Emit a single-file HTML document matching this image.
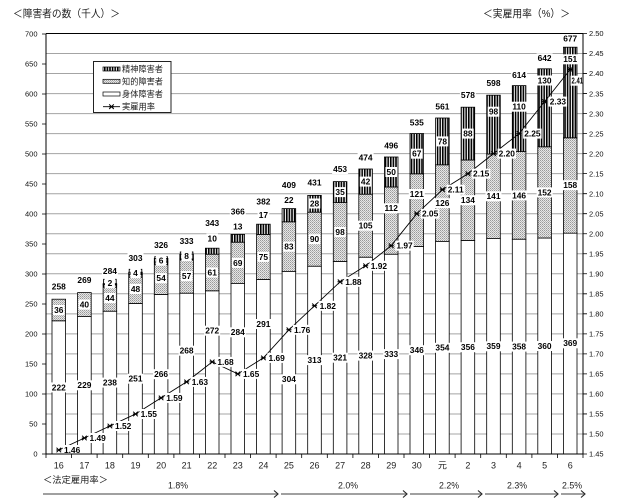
<!DOCTYPE html>
<html><head><meta charset="utf-8">
<style>
html,body{margin:0;padding:0;background:#fff;}
svg{display:block;}
.n{font-family:"Liberation Sans",Arial,sans-serif;font-weight:bold;font-size:8.4px;text-anchor:middle;fill:#000;}
.ax{font-family:"Liberation Sans",Arial,sans-serif;font-size:7.5px;fill:#111;}
.xl{font-family:"Liberation Sans","Noto Sans CJK JP",sans-serif;font-size:9px;fill:#222;text-anchor:middle;}
.jp{font-family:"Liberation Sans","Noto Sans CJK JP",sans-serif;fill:#222;}
</style></head>
<body>
<svg width="625" height="501" viewBox="0 0 625 501" xmlns="http://www.w3.org/2000/svg">
<defs>
<pattern id="st" width="2.6" height="4" patternUnits="userSpaceOnUse"><rect width="2.6" height="4" fill="#fff"/><rect width="1.6" height="4" fill="#000"/></pattern>
<pattern id="dt" width="2" height="2" patternUnits="userSpaceOnUse"><rect width="2" height="2" fill="#e6e6e6"/><rect width="1" height="1" fill="#999"/><rect x="1" y="1" width="1" height="1" fill="#b5b5b5"/></pattern>
<path id="mk" d="M-2.3 -2.3L2.3 2.3M-2.3 2.3L2.3 -2.3M-2.6 0H2.6" stroke="#000" stroke-width="1" fill="none"/>
<clipPath id="pc"><rect x="46" y="33" width="537" height="422"/></clipPath>
</defs>
<rect width="625" height="501" fill="#fff"/>

<!-- titles -->
<text class="jp" x="13" y="17" font-size="10.5" textLength="107" lengthAdjust="spacingAndGlyphs">＜障害者の数（千人）＞</text>
<text class="jp" x="483" y="17" font-size="10.5" textLength="87" lengthAdjust="spacingAndGlyphs">＜実雇用率（%）＞</text>

<!-- gridlines -->
<path d="M46 433.98H583M46 413.95H583M46 393.93H583M46 373.9H583M46 353.88H583M46 333.86H583M46 313.83H583M46 293.81H583M46 273.78H583M46 253.76H583M46 233.74H583M46 213.71H583M46 193.69H583M46 173.66H583M46 153.64H583M46 133.62H583M46 113.59H583M46 93.57H583M46 73.54H583M46 53.52H583" stroke="#a4a4a4" stroke-width="1" fill="none"/>

<!-- bars -->
<g stroke="#000" stroke-width="0.8">
<rect x="52.0" y="320.8" width="13.6" height="133.2" fill="#fff"/><rect x="52.0" y="299.2" width="13.6" height="21.6" fill="url(#dt)"/>
<rect x="77.6" y="316.6" width="13.6" height="137.4" fill="#fff"/><rect x="77.6" y="292.6" width="13.6" height="24" fill="url(#dt)"/>
<rect x="103.1" y="311.2" width="13.6" height="142.8" fill="#fff"/><rect x="103.1" y="284.8" width="13.6" height="26.4" fill="url(#dt)"/><rect x="103.1" y="283.6" width="13.6" height="1.2" fill="url(#st)"/>
<rect x="128.7" y="303.4" width="13.6" height="150.6" fill="#fff"/><rect x="128.7" y="274.6" width="13.6" height="28.8" fill="url(#dt)"/><rect x="128.7" y="272.2" width="13.6" height="2.4" fill="url(#st)"/>
<rect x="154.3" y="294.4" width="13.6" height="159.6" fill="#fff"/><rect x="154.3" y="262" width="13.6" height="32.4" fill="url(#dt)"/><rect x="154.3" y="258.4" width="13.6" height="3.6" fill="url(#st)"/>
<rect x="179.8" y="293.2" width="13.6" height="160.8" fill="#fff"/><rect x="179.8" y="259" width="13.6" height="34.2" fill="url(#dt)"/><rect x="179.8" y="254.2" width="13.6" height="4.8" fill="url(#st)"/>
<rect x="205.4" y="290.8" width="13.6" height="163.2" fill="#fff"/><rect x="205.4" y="254.2" width="13.6" height="36.6" fill="url(#dt)"/><rect x="205.4" y="248.2" width="13.6" height="6" fill="url(#st)"/>
<rect x="231.0" y="283.6" width="13.6" height="170.4" fill="#fff"/><rect x="231.0" y="242.2" width="13.6" height="41.4" fill="url(#dt)"/><rect x="231.0" y="234.4" width="13.6" height="7.8" fill="url(#st)"/>
<rect x="256.6" y="279.4" width="13.6" height="174.6" fill="#fff"/><rect x="256.6" y="234.4" width="13.6" height="45" fill="url(#dt)"/><rect x="256.6" y="224.2" width="13.6" height="10.2" fill="url(#st)"/>
<rect x="282.1" y="271.6" width="13.6" height="182.4" fill="#fff"/><rect x="282.1" y="221.8" width="13.6" height="49.8" fill="url(#dt)"/><rect x="282.1" y="208.6" width="13.6" height="13.2" fill="url(#st)"/>
<rect x="307.7" y="266.2" width="13.6" height="187.8" fill="#fff"/><rect x="307.7" y="212.2" width="13.6" height="54" fill="url(#dt)"/><rect x="307.7" y="195.4" width="13.6" height="16.8" fill="url(#st)"/>
<rect x="333.3" y="261.4" width="13.6" height="192.6" fill="#fff"/><rect x="333.3" y="202.6" width="13.6" height="58.8" fill="url(#dt)"/><rect x="333.3" y="181.6" width="13.6" height="21" fill="url(#st)"/>
<rect x="358.8" y="257.2" width="13.6" height="196.8" fill="#fff"/><rect x="358.8" y="194.2" width="13.6" height="63" fill="url(#dt)"/><rect x="358.8" y="169" width="13.6" height="25.2" fill="url(#st)"/>
<rect x="384.4" y="254.2" width="13.6" height="199.8" fill="#fff"/><rect x="384.4" y="187" width="13.6" height="67.2" fill="url(#dt)"/><rect x="384.4" y="157" width="13.6" height="30" fill="url(#st)"/>
<rect x="410.0" y="246.4" width="13.6" height="207.6" fill="#fff"/><rect x="410.0" y="173.8" width="13.6" height="72.6" fill="url(#dt)"/><rect x="410.0" y="133.6" width="13.6" height="40.2" fill="url(#st)"/>
<rect x="435.6" y="241.6" width="13.6" height="212.4" fill="#fff"/><rect x="435.6" y="164.8" width="13.6" height="76.8" fill="url(#dt)"/><rect x="435.6" y="118" width="13.6" height="46.8" fill="url(#st)"/>
<rect x="461.1" y="240.4" width="13.6" height="213.6" fill="#fff"/><rect x="461.1" y="160" width="13.6" height="80.4" fill="url(#dt)"/><rect x="461.1" y="107.2" width="13.6" height="52.8" fill="url(#st)"/>
<rect x="486.7" y="238.6" width="13.6" height="215.4" fill="#fff"/><rect x="486.7" y="154" width="13.6" height="84.6" fill="url(#dt)"/><rect x="486.7" y="95.2" width="13.6" height="58.8" fill="url(#st)"/>
<rect x="512.3" y="239.2" width="13.6" height="214.8" fill="#fff"/><rect x="512.3" y="151.6" width="13.6" height="87.6" fill="url(#dt)"/><rect x="512.3" y="85.6" width="13.6" height="66" fill="url(#st)"/>
<rect x="537.8" y="238" width="13.6" height="216" fill="#fff"/><rect x="537.8" y="146.8" width="13.6" height="91.2" fill="url(#dt)"/><rect x="537.8" y="68.8" width="13.6" height="78" fill="url(#st)"/>
<rect x="563.4" y="232.6" width="13.6" height="221.4" fill="#fff"/><rect x="563.4" y="137.8" width="13.6" height="95.4" fill="url(#dt)"/><rect x="563.4" y="47.2" width="13.6" height="90.6" fill="url(#st)"/>
</g>

<!-- rate line -->
<polyline points="58.8,450 84.4,438 109.9,426 135.5,414 161.1,397.9 186.6,381.9 212.2,361.9 237.8,373.9 263.4,357.9 288.9,329.8 314.5,305.8 340.1,281.8 365.6,265.8 391.2,245.7 416.8,213.7 442.4,189.7 467.9,173.7 493.5,153.6 519.1,133.6 544.6,101.6 570.2,69.5" fill="none" stroke="#000" stroke-width="0.9"/>
<g>
<use href="#mk" x="58.8" y="450"/><use href="#mk" x="84.4" y="438"/><use href="#mk" x="109.9" y="426"/><use href="#mk" x="135.5" y="414"/><use href="#mk" x="161.1" y="397.9"/><use href="#mk" x="186.6" y="381.9"/><use href="#mk" x="212.2" y="361.9"/><use href="#mk" x="237.8" y="373.9"/><use href="#mk" x="263.4" y="357.9"/><use href="#mk" x="288.9" y="329.8"/><use href="#mk" x="314.5" y="305.8"/><use href="#mk" x="340.1" y="281.8"/><use href="#mk" x="365.6" y="265.8"/><use href="#mk" x="391.2" y="245.7"/><use href="#mk" x="416.8" y="213.7"/><use href="#mk" x="442.4" y="189.7"/><use href="#mk" x="467.9" y="173.7"/><use href="#mk" x="493.5" y="153.6"/><use href="#mk" x="519.1" y="133.6"/><use href="#mk" x="544.6" y="101.6"/><use href="#mk" x="570.2" y="69.5"/>
</g>

<g clip-path="url(#pc)">
<!-- total labels -->
<g fill="#fff">
<rect x="50.8" y="281.7" width="16" height="10"/><rect x="76.4" y="275" width="16" height="10"/><rect x="101.9" y="266" width="16" height="10"/><rect x="127.5" y="253" width="16" height="10"/><rect x="153.1" y="240" width="16" height="10"/><rect x="178.6" y="236" width="16" height="10"/><rect x="204.2" y="218" width="16" height="10"/><rect x="229.8" y="206.7" width="16" height="10"/><rect x="255.4" y="196.7" width="16" height="10"/><rect x="280.9" y="180" width="16" height="10"/><rect x="306.5" y="177.7" width="16" height="10"/><rect x="332.1" y="164" width="16" height="10"/><rect x="357.6" y="152.5" width="16" height="10"/><rect x="383.2" y="140.5" width="16" height="10"/><rect x="408.8" y="117.8" width="16" height="10"/><rect x="434.4" y="101.7" width="16" height="10"/><rect x="459.9" y="90" width="16" height="10"/><rect x="485.5" y="78.2" width="16" height="10"/><rect x="511.1" y="70" width="16" height="10"/><rect x="536.6" y="53.3" width="16" height="10"/><rect x="562.2" y="33.8" width="16" height="10"/>
</g>
<text class="n" x="58.8" y="289.6">258</text><text class="n" x="84.4" y="282.9">269</text><text class="n" x="109.9" y="273.9">284</text><text class="n" x="135.5" y="260.9">303</text><text class="n" x="161.1" y="247.9">326</text><text class="n" x="186.6" y="243.9">333</text><text class="n" x="212.2" y="225.9">343</text><text class="n" x="237.8" y="214.6">366</text><text class="n" x="263.4" y="204.6">382</text><text class="n" x="288.9" y="187.9">409</text><text class="n" x="314.5" y="185.6">431</text><text class="n" x="340.1" y="171.9">453</text><text class="n" x="365.6" y="160.4">474</text><text class="n" x="391.2" y="148.4">496</text><text class="n" x="416.8" y="125.7">535</text><text class="n" x="442.4" y="109.6">561</text><text class="n" x="467.9" y="97.9">578</text><text class="n" x="493.5" y="86.1">598</text><text class="n" x="519.1" y="77.9">614</text><text class="n" x="544.6" y="61.2">642</text><text class="n" x="570.2" y="41.7">677</text>

<!-- 身体 labels -->
<g fill="#fff">
<rect x="50.8" y="382.4" width="16" height="10"/><rect x="76.4" y="380.3" width="16" height="10"/><rect x="101.9" y="377.6" width="16" height="10"/><rect x="127.5" y="373.7" width="16" height="10"/><rect x="153.1" y="369.2" width="16" height="10"/><rect x="178.6" y="345.7" width="16" height="10"/><rect x="204.2" y="325.7" width="16" height="10"/><rect x="229.8" y="327.3" width="16" height="10"/><rect x="255.4" y="319" width="16" height="10"/><rect x="280.9" y="374.3" width="16" height="10"/><rect x="306.5" y="355.1" width="16" height="10"/><rect x="332.1" y="352.7" width="16" height="10"/><rect x="357.6" y="350.6" width="16" height="10"/><rect x="383.2" y="349.1" width="16" height="10"/><rect x="408.8" y="345.2" width="16" height="10"/><rect x="434.4" y="342.8" width="16" height="10"/><rect x="459.9" y="342.2" width="16" height="10"/><rect x="485.5" y="341.3" width="16" height="10"/><rect x="511.1" y="341.6" width="16" height="10"/><rect x="536.6" y="341" width="16" height="10"/><rect x="562.2" y="338.3" width="16" height="10"/>
</g>
<text class="n" x="58.8" y="390.3">222</text><text class="n" x="84.4" y="388.2">229</text><text class="n" x="109.9" y="385.5">238</text><text class="n" x="135.5" y="381.6">251</text><text class="n" x="161.1" y="377.1">266</text><text class="n" x="186.6" y="353.6">268</text><text class="n" x="212.2" y="333.6">272</text><text class="n" x="237.8" y="335.2">284</text><text class="n" x="263.4" y="326.9">291</text><text class="n" x="288.9" y="382.2">304</text><text class="n" x="314.5" y="363">313</text><text class="n" x="340.1" y="360.6">321</text><text class="n" x="365.6" y="358.5">328</text><text class="n" x="391.2" y="357">333</text><text class="n" x="416.8" y="353.1">346</text><text class="n" x="442.4" y="350.7">354</text><text class="n" x="467.9" y="350.1">356</text><text class="n" x="493.5" y="349.2">359</text><text class="n" x="519.1" y="349.5">358</text><text class="n" x="544.6" y="348.9">360</text><text class="n" x="570.2" y="346.2">369</text>

<!-- 知的 labels -->
<g fill="#fff">
<rect x="53" y="305" width="11.6" height="10"/><rect x="78.6" y="299.6" width="11.6" height="10"/><rect x="104.1" y="293" width="11.6" height="10"/><rect x="129.7" y="284" width="11.6" height="10"/><rect x="155.3" y="273.2" width="11.6" height="10"/><rect x="180.8" y="271.1" width="11.6" height="10"/><rect x="206.4" y="267.5" width="11.6" height="10"/><rect x="232" y="257.9" width="11.6" height="10"/><rect x="257.6" y="251.9" width="11.6" height="10"/><rect x="283.1" y="241.7" width="11.6" height="10"/><rect x="308.7" y="234.2" width="11.6" height="10"/><rect x="334.3" y="227" width="11.6" height="10"/><rect x="357.6" y="220.7" width="16" height="10"/><rect x="383.2" y="203.3" width="16" height="10"/><rect x="408.8" y="189" width="16" height="10"/><rect x="434.4" y="198.2" width="16" height="10"/><rect x="459.9" y="195.2" width="16" height="10"/><rect x="485.5" y="191.3" width="16" height="10"/><rect x="511.1" y="190.4" width="16" height="10"/><rect x="536.6" y="187.4" width="16" height="10"/><rect x="562.2" y="180.2" width="16" height="10"/>
</g>
<text class="n" x="58.8" y="312.9">36</text><text class="n" x="84.4" y="307.5">40</text><text class="n" x="109.9" y="300.9">44</text><text class="n" x="135.5" y="291.9">48</text><text class="n" x="161.1" y="281.1">54</text><text class="n" x="186.6" y="279">57</text><text class="n" x="212.2" y="275.4">61</text><text class="n" x="237.8" y="265.8">69</text><text class="n" x="263.4" y="259.8">75</text><text class="n" x="288.9" y="249.6">83</text><text class="n" x="314.5" y="242.1">90</text><text class="n" x="340.1" y="234.9">98</text><text class="n" x="365.6" y="228.6">105</text><text class="n" x="391.2" y="211.2">112</text><text class="n" x="416.8" y="196.9">121</text><text class="n" x="442.4" y="206.1">126</text><text class="n" x="467.9" y="203.1">134</text><text class="n" x="493.5" y="199.2">141</text><text class="n" x="519.1" y="198.3">146</text><text class="n" x="544.6" y="195.3">152</text><text class="n" x="570.2" y="188.1">158</text>

<!-- 精神 labels -->
<g fill="#fff">
<rect x="104.9" y="278.3" width="10" height="10"/><rect x="130.5" y="268.3" width="10" height="10"/><rect x="156.1" y="255.7" width="10" height="10"/><rect x="181.6" y="251" width="10" height="10"/>
<rect x="206.4" y="233.5" width="11.6" height="10"/><rect x="232" y="221.7" width="11.6" height="10"/><rect x="257.6" y="210" width="11.6" height="10"/><rect x="283.1" y="195" width="11.6" height="10"/><rect x="308.7" y="198.5" width="11.6" height="10"/><rect x="334.3" y="187.1" width="11.6" height="10"/><rect x="359.8" y="176.6" width="11.6" height="10"/><rect x="385.4" y="167" width="11.6" height="10"/><rect x="411" y="148.7" width="11.6" height="10"/><rect x="436.6" y="136.4" width="11.6" height="10"/><rect x="462.1" y="128.6" width="11.6" height="10"/><rect x="487.7" y="106.7" width="11.6" height="10"/><rect x="511.1" y="101.7" width="16" height="10"/><rect x="536.6" y="75.5" width="16" height="10"/><rect x="562.2" y="54.3" width="16" height="10"/>
</g>
<path d="M104.6 279.3h-1v8h1M115.2 279.3h1v8h-1M130.2 269.3h-1v8h1M140.8 269.3h1v8h-1M155.8 256.7h-1v8h1M166.4 256.7h1v8h-1M181.3 252h-1v8h1M191.9 252h1v8h-1" fill="none" stroke="#000" stroke-width="0.9"/>
<text class="n" x="109.9" y="286.2">2</text><text class="n" x="135.5" y="276.2">4</text><text class="n" x="161.1" y="263.6">6</text><text class="n" x="186.6" y="258.9">8</text><text class="n" x="212.2" y="241.4">10</text><text class="n" x="237.8" y="229.6">13</text><text class="n" x="263.4" y="217.9">17</text><text class="n" x="288.9" y="202.9">22</text><text class="n" x="314.5" y="206.4">28</text><text class="n" x="340.1" y="195">35</text><text class="n" x="365.6" y="184.5">42</text><text class="n" x="391.2" y="174.9">50</text><text class="n" x="416.8" y="156.6">67</text><text class="n" x="442.4" y="144.3">78</text><text class="n" x="467.9" y="136.5">88</text><text class="n" x="493.5" y="114.6">98</text><text class="n" x="519.1" y="109.6">110</text><text class="n" x="544.6" y="83.4">130</text><text class="n" x="570.2" y="62.2">151</text>

<!-- rate labels -->
<g fill="#fff">
<rect x="62.8" y="445" width="18.5" height="10"/><rect x="88.4" y="433" width="18.5" height="10"/><rect x="113.9" y="421" width="18.5" height="10"/><rect x="139.5" y="409" width="18.5" height="10"/><rect x="165.1" y="392.9" width="18.5" height="10"/><rect x="190.6" y="376.9" width="18.5" height="10"/><rect x="216.2" y="356.9" width="18.5" height="10"/><rect x="241.8" y="368.9" width="18.5" height="10"/><rect x="267.4" y="352.9" width="18.5" height="10"/><rect x="292.9" y="324.8" width="18.5" height="10"/><rect x="318.5" y="300.8" width="18.5" height="10"/><rect x="344.1" y="276.8" width="18.5" height="10"/><rect x="369.6" y="260.8" width="18.5" height="10"/><rect x="395.2" y="240.7" width="18.5" height="10"/><rect x="420.8" y="208.7" width="18.5" height="10"/><rect x="446.4" y="184.7" width="18.5" height="10"/><rect x="471.9" y="168.7" width="18.5" height="10"/><rect x="497.5" y="148.6" width="18.5" height="10"/><rect x="523.1" y="128.6" width="18.5" height="10"/><rect x="548.6" y="96.6" width="18.5" height="10"/><rect x="570.5" y="75.7" width="13" height="10"/>
</g>
<text class="n" x="72.1" y="453">1.46</text><text class="n" x="97.7" y="441">1.49</text><text class="n" x="123.2" y="429">1.52</text><text class="n" x="148.8" y="417">1.55</text><text class="n" x="174.4" y="400.9">1.59</text><text class="n" x="199.9" y="384.9">1.63</text><text class="n" x="225.5" y="364.9">1.68</text><text class="n" x="251.1" y="376.9">1.65</text><text class="n" x="276.7" y="360.9">1.69</text><text class="n" x="302.2" y="332.8">1.76</text><text class="n" x="327.8" y="308.8">1.82</text><text class="n" x="353.4" y="284.8">1.88</text><text class="n" x="378.9" y="268.8">1.92</text><text class="n" x="404.5" y="248.7">1.97</text><text class="n" x="430.1" y="216.7">2.05</text><text class="n" x="455.7" y="192.7">2.11</text><text class="n" x="481.2" y="176.7">2.15</text><text class="n" x="506.8" y="156.6">2.20</text><text class="n" x="532.4" y="136.6">2.25</text><text class="n" x="557.9" y="104.6">2.33</text><text class="n" x="577.3" y="83.7" textLength="11.5" lengthAdjust="spacingAndGlyphs">2.41</text>
</g>

<!-- axes frame -->
<path d="M46 33.5H583M46 33.5V454H583V33.5" fill="none" stroke="#000" stroke-width="1"/>
<!-- left ticks -->
<path d="M42 454H46M42 424H46M42 394H46M42 364H46M42 334H46M42 304H46M42 274H46M42 244H46M42 214H46M42 184H46M42 154H46M42 124H46M42 94H46M42 64H46M42 34H46" stroke="#000" stroke-width="0.8"/>
<!-- right ticks -->
<path d="M583 454H587M583 433.98H587M583 413.95H587M583 393.93H587M583 373.9H587M583 353.88H587M583 333.86H587M583 313.83H587M583 293.81H587M583 273.78H587M583 253.76H587M583 233.74H587M583 213.71H587M583 193.69H587M583 173.66H587M583 153.64H587M583 133.62H587M583 113.59H587M583 93.57H587M583 73.54H587M583 53.52H587M583 33.5H587" stroke="#000" stroke-width="0.8"/>
<!-- bottom ticks -->
<path d="M46 454V458M71.6 454V458M97.1 454V458M122.7 454V458M148.3 454V458M173.9 454V458M199.4 454V458M225 454V458M250.6 454V458M276.1 454V458M301.7 454V458M327.3 454V458M352.9 454V458M378.4 454V458M404 454V458M429.6 454V458M455.1 454V458M480.7 454V458M506.3 454V458M531.9 454V458M557.4 454V458M583 454V458" stroke="#000" stroke-width="0.8"/>

<!-- left axis labels -->
<g class="ax" text-anchor="end">
<text x="37.5" y="456.7">0</text><text x="37.5" y="426.7">50</text><text x="37.5" y="396.7">100</text><text x="37.5" y="366.7">150</text><text x="37.5" y="336.7">200</text><text x="37.5" y="306.7">250</text><text x="37.5" y="276.7">300</text><text x="37.5" y="246.7">350</text><text x="37.5" y="216.7">400</text><text x="37.5" y="186.7">450</text><text x="37.5" y="156.7">500</text><text x="37.5" y="126.7">550</text><text x="37.5" y="96.7">600</text><text x="37.5" y="66.7">650</text><text x="37.5" y="36.7">700</text>
</g>
<!-- right axis labels -->
<g class="ax" fill="#333">
<text x="589" y="456.7">1.45</text><text x="589" y="436.7">1.50</text><text x="589" y="416.7">1.55</text><text x="589" y="396.6">1.60</text><text x="589" y="376.6">1.65</text><text x="589" y="356.6">1.70</text><text x="589" y="336.6">1.75</text><text x="589" y="316.5">1.80</text><text x="589" y="296.5">1.85</text><text x="589" y="276.5">1.90</text><text x="589" y="256.5">1.95</text><text x="589" y="236.4">2.00</text><text x="589" y="216.4">2.05</text><text x="589" y="196.4">2.10</text><text x="589" y="176.4">2.15</text><text x="589" y="156.3">2.20</text><text x="589" y="136.3">2.25</text><text x="589" y="116.3">2.30</text><text x="589" y="96.3">2.35</text><text x="589" y="76.2">2.40</text><text x="589" y="56.2">2.45</text><text x="589" y="36.2">2.50</text>
</g>

<!-- x labels -->
<g class="xl">
<text x="58.8" y="468.3">16</text><text x="84.4" y="468.3">17</text><text x="109.9" y="468.3">18</text><text x="135.5" y="468.3">19</text><text x="161.1" y="468.3">20</text><text x="186.6" y="468.3">21</text><text x="212.2" y="468.3">22</text><text x="237.8" y="468.3">23</text><text x="263.4" y="468.3">24</text><text x="288.9" y="468.3">25</text><text x="314.5" y="468.3">26</text><text x="340.1" y="468.3">27</text><text x="365.6" y="468.3">28</text><text x="391.2" y="468.3">29</text><text x="416.8" y="468.3">30</text><text x="442.4" y="468.3">元</text><text x="467.9" y="468.3">2</text><text x="493.5" y="468.3">3</text><text x="519.1" y="468.3">4</text><text x="544.6" y="468.3">5</text><text x="570.2" y="468.3">6</text>
</g>

<!-- legend -->
<rect x="93.5" y="61.5" width="77.5" height="51" fill="#fff" stroke="#222" stroke-width="1"/>
<rect x="103" y="67" width="17" height="4" fill="url(#st)" stroke="#000" stroke-width="0.7"/>
<rect x="103" y="79.3" width="17" height="4" fill="url(#dt)" stroke="#000" stroke-width="0.7"/>
<rect x="103" y="92" width="17" height="4" fill="#fff" stroke="#000" stroke-width="0.7"/>
<path d="M103 106.7H120" stroke="#000" stroke-width="0.9"/>
<use href="#mk" x="111.5" y="106.7"/>
<g class="jp" font-size="8.6">
<text x="122" y="72" textLength="41" lengthAdjust="spacingAndGlyphs">精神障害者</text>
<text x="122" y="84.3" textLength="41" lengthAdjust="spacingAndGlyphs">知的障害者</text>
<text x="122" y="97" textLength="41" lengthAdjust="spacingAndGlyphs">身体障害者</text>
<text x="122" y="109.7" textLength="33" lengthAdjust="spacingAndGlyphs">実雇用率</text>
</g>

<!-- legal rate -->
<text class="jp" x="43" y="483" font-size="9.3" textLength="65" lengthAdjust="spacingAndGlyphs">＜法定雇用率＞</text>
<g class="jp" font-size="9.5">
<text x="168" y="488.5" textLength="20" lengthAdjust="spacingAndGlyphs">1.8%</text>
<text x="338" y="488.5" textLength="20" lengthAdjust="spacingAndGlyphs">2.0%</text>
<text x="439" y="488.5" textLength="20" lengthAdjust="spacingAndGlyphs">2.2%</text>
<text x="507" y="488.5" textLength="20" lengthAdjust="spacingAndGlyphs">2.3%</text>
<text x="562" y="488.5" textLength="20" lengthAdjust="spacingAndGlyphs">2.5%</text>
</g>
<path d="M43 494H277M281 494H406M410 494H481M485 494H557M561 494H584" stroke="#808080" stroke-width="1.6" fill="none"/>
<path d="M274 490.5L278 494L274 497.5M403 490.5L407 494L403 497.5M478 490.5L482 494L478 497.5M554 490.5L558 494L554 497.5M581 490.5L585 494L581 497.5" stroke="#222" stroke-width="1.1" fill="none"/>
</svg>
</body></html>
